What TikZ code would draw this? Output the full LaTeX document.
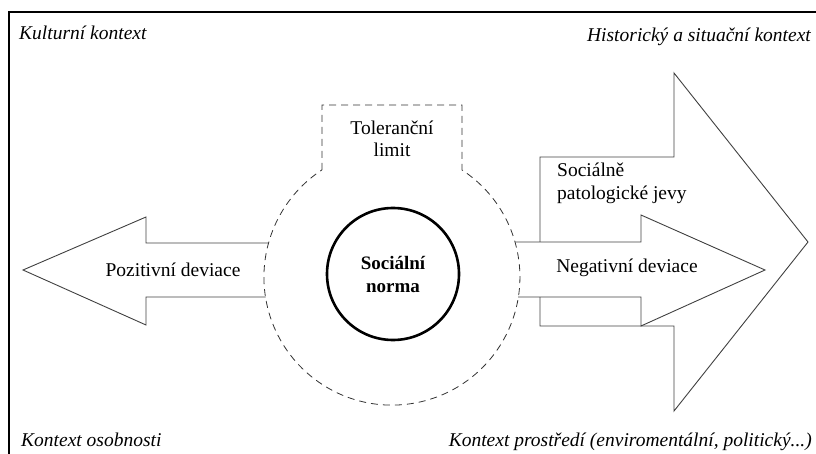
\documentclass[tikz,border=0pt]{standalone}
\usepackage{fontspec}
\setmainfont{Liberation Serif}
\begin{document}
\begin{tikzpicture}
      [%%%%%%%%%%%%%%%%%%%%%%%%%%%%%%
      x=1pt,y=-1pt,
      txt/.style={inner sep=0pt,font=\fontsize{19.5}{22.5}\selectfont},
      ctx/.style={inner sep=0pt,font=\fontsize{19.5}{22.5}\selectfont\itshape},
      outline/.style={draw=black!75,line width=0.9pt,line join=miter},
      tolerance/.style={draw=black!80,line width=0.8pt,dash pattern=on 7pt off 5pt},
      ]%%%%%%%%%%%%%%%%%%%%%%%%%%%%%%

      \useasboundingbox (0,0) rectangle (816,454);
      \draw[line width=1.1pt] (9,454) -- (9,12) -- (816,12);

      % kontexty
      \node[ctx,anchor=base west] (kultura) at (19,40) {Kulturní kontext};
      \node[ctx,anchor=base east] (historie) at (811,42) {Historický a situační kontext};
      \node[ctx,anchor=base west] (osobnost) at (21,446) {Kontext osobnosti};
      \node[ctx,anchor=base east] (prostredi) at (812,446) {Kontext prostředí (enviromentální, politický...)};

      % sipky
      \draw[outline] (268.6,243) -- (146,243) -- (146,217) -- (23,270) -- (146,325) -- (146,297) -- (265.6,297);
      \draw[outline] (540,242) -- (540,157) -- (674,157) -- (674,73) -- (808,242) -- (674,411) -- (674,326) -- (540,326) -- (540,297);
      \draw[outline] (515,242) -- (641,242) -- (641,215) -- (765,270) -- (641,326) -- (641,297) -- (518,297);

      % toleranční limit
      \draw[tolerance] (322,170) -- (322,105) -- (462,105) -- (462,170)
        arc[start angle=-56.8,end angle=236.8,radius=128];

      \node[txt,align=center] (limit) at (392,139) {Toleranční\\limit};
      \node[txt] (pozitivni) at (173,270) {Pozitivní deviace};
      \node[txt] (negativni) at (627,268) {Negativní deviace};
      \node[txt,align=left,anchor=north west] (patologie) at (557,163) {Sociálně\\patologické jevy};
      \node[circle,draw=black,line width=2.6pt,minimum size=132pt,inner sep=0pt,align=center,
            font=\fontsize{19}{23}\selectfont\bfseries] (norma) at (393,274) {Sociální\\norma};
    \end{tikzpicture}
\end{document}
